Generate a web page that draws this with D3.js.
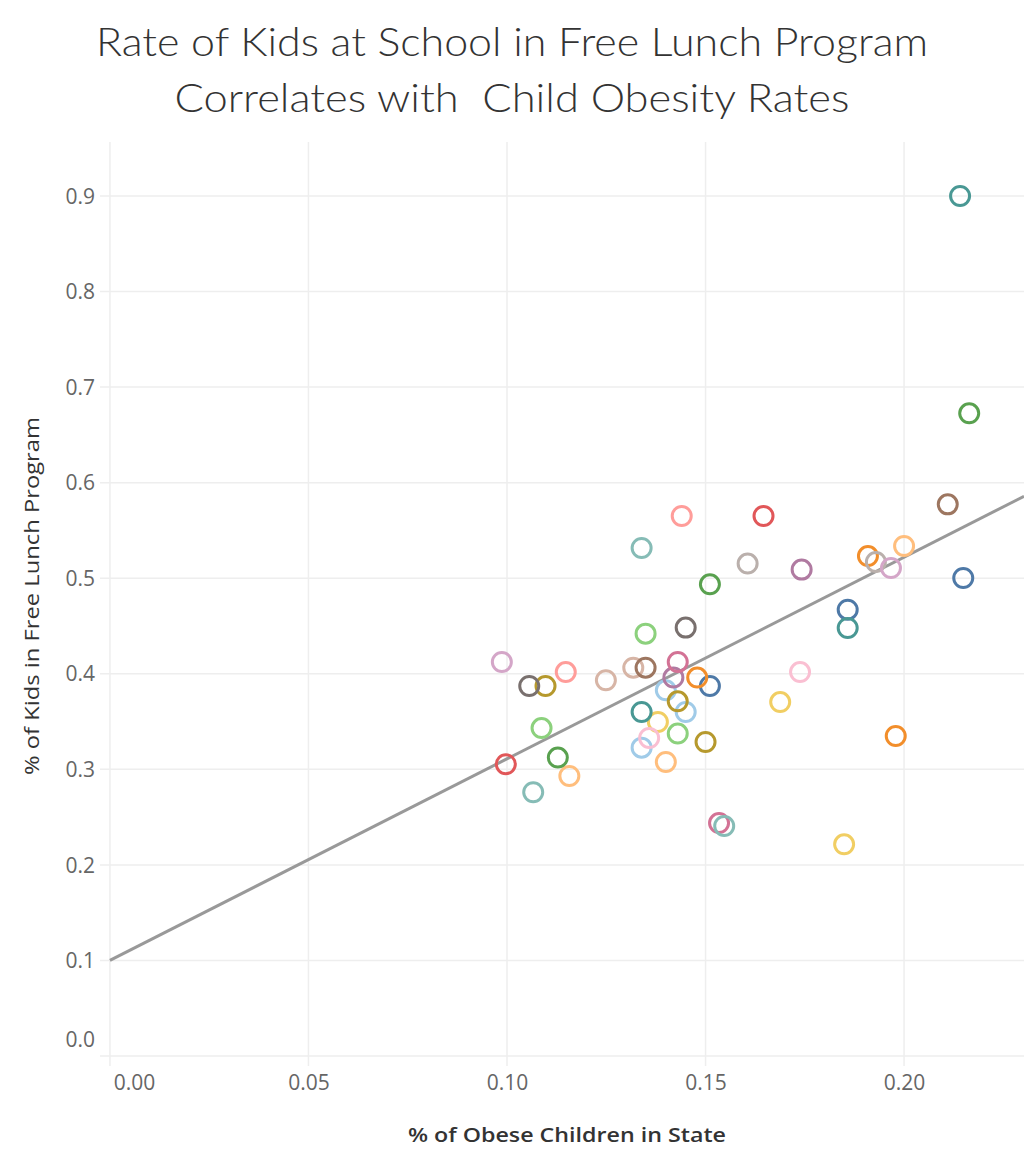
<!DOCTYPE html>
<html>
<head>
<meta charset="utf-8">
<script src="https://cdn.jsdelivr.net/npm/d3@7"></script>
<style>
  html, body { margin: 0; padding: 0; background: #fff; }
  svg { display: block; }
  text { white-space: pre; }
</style>
</head>
<body>
<script>
// ---------------- DATA ----------------
const titleLines = ["Rate of Kids at School in Free Lunch Program", "Correlates with  Child Obesity Rates"];
const xAxisTitle = "% of Obese Children in State";
const yAxisTitle = "% of Kids in Free Lunch Program";

const xTicks = [0.00, 0.05, 0.10, 0.15, 0.20];
const yTicks = [0.0, 0.1, 0.2, 0.3, 0.4, 0.5, 0.6, 0.7, 0.8, 0.9];

// colour group of each point (index into the Tableau 20 palette)
const pointGroup = [
  0, 0, 0,
  1, 1, 1,
  2, 2, 2,
  3, 3, 3,
  4, 4, 4,
  5, 5, 5,
  6, 6, 6,
  7, 7, 7,
  8, 8, 8,
  9, 9,
  10, 10,
  11, 11,
  12, 12,
  13, 13,
  15, 15,
  16, 16,
  17, 17,
  19, 19, 18, 18,
  14, 14, 9
];
// % of obese children in state (x)
const obesity = [
  0.1858, 0.1511, 0.2149,
  0.1400, 0.1450, 0.1339,
  0.1909, 0.1979, 0.1479,
  0.2000, 0.1400, 0.1157,
  0.2164, 0.1511, 0.1128,
  0.1349, 0.1430, 0.1087,
  0.1097, 0.1430, 0.1500,
  0.1849, 0.1380, 0.1688,
  0.2141, 0.1858, 0.1339,
  0.1339, 0.1066,
  0.1646, 0.0997,
  0.1440, 0.1148,
  0.1450, 0.1056,
  0.1929, 0.1606,
  0.1358, 0.1738,
  0.1742, 0.1419,
  0.0987, 0.1967,
  0.1249, 0.1318, 0.2110, 0.1349,
  0.1430, 0.1534, 0.1547
];
// % of kids in free lunch program (y)
const freeLunch = [
  0.4671, 0.3872, 0.5002,
  0.3827, 0.3600, 0.3227,
  0.5232, 0.3349, 0.3960,
  0.5337, 0.3077, 0.2930,
  0.6726, 0.4936, 0.3123,
  0.4420, 0.3374, 0.3432,
  0.3872, 0.3712, 0.3286,
  0.2215, 0.3495, 0.3704,
  0.9000, 0.4479, 0.3600,
  0.5316, 0.2760,
  0.5651, 0.3053,
  0.5651, 0.4018,
  0.4483, 0.3872,
  0.5170, 0.5153,
  0.3328, 0.4018,
  0.5090, 0.3960,
  0.4123, 0.5107,
  0.3932, 0.4064, 0.5773, 0.4064,
  0.4123, 0.2438, 0.2407
];
// linear trend line: y = intercept + slope * x
const trendIntercept = 0.1;
const trendSlope = 2.11;

// ---------------- CHART ----------------
const tableau20 = ["#4E79A7","#A0CBE8","#F28E2B","#FFBE7D","#59A14F","#8CD17D","#B6992D","#F1CE63",
                   "#499894","#86BCB6","#E15759","#FF9D9A","#79706E","#BAB0AC","#D37295","#FABFD2",
                   "#B07AA1","#D4A6C8","#9D7660","#D7B5A6"];

const W = 1024, H = 1166;
const plot = { left: 100, right: 1024, top: 142, bottom: 1056 };
const TITLE_FONT = "Lato, 'Open Sans', sans-serif";
const FONT = "'Open Sans', Lato, sans-serif";

const svg = d3.select("body").append("svg").attr("width", W).attr("height", H)
  .style("background", "#fff");

const x = d3.scaleLinear().domain([-0.0025, 0.2302]).range([plot.left, plot.right]);
const y = d3.scaleLinear().domain([0, 0.9565]).range([plot.bottom, plot.top]);

// Title
const titleWidths = [832, 675];
svg.append("g").selectAll("text").data(titleLines).join("text")
  .attr("x", 512).attr("y", (d, i) => 56 + i * 56)
  .attr("text-anchor", "middle")
  .attr("textLength", (d, i) => titleWidths[i])
  .attr("lengthAdjust", "spacingAndGlyphs")
  .style("font-family", TITLE_FONT).style("font-weight", 300).style("font-size", "39px")
  .style("fill", "#333")
  .text(d => d);

// Grid lines
const grid = svg.append("g");
grid.selectAll("line.h").data(yTicks).join("line").attr("class", "h")
  .attr("x1", plot.left).attr("x2", plot.right)
  .attr("y1", d => y(d)).attr("y2", d => y(d))
  .attr("stroke", "#eeeeee").attr("stroke-width", 1.5);
grid.selectAll("line.v").data(xTicks).join("line").attr("class", "v")
  .attr("x1", d => x(d)).attr("x2", d => x(d))
  .attr("y1", plot.top).attr("y2", plot.bottom + 10)
  .attr("stroke", "#eeeeee").attr("stroke-width", 1.5);

// Axes (labels only)
const yAxis = d3.axisLeft(y).tickValues(yTicks).tickFormat(d3.format(".1f")).tickSize(0).tickPadding(5);
const gy = svg.append("g").attr("transform", `translate(${plot.left},0)`).call(yAxis);
gy.select(".domain").remove();
gy.selectAll("text").style("font-family", FONT).style("font-size", "21px").style("fill", "#666")
  .attr("dy", (d) => d === 0 ? "-0.45em" : "0.34em");

const xAxis = d3.axisBottom(x).tickValues(xTicks).tickFormat(d3.format(".2f")).tickSize(0).tickPadding(19);
const gx = svg.append("g").attr("transform", `translate(0,${plot.bottom})`).call(xAxis);
gx.select(".domain").remove();
gx.selectAll("text").style("font-family", FONT).style("font-size", "21px").style("fill", "#666")
  .attr("dx", (d) => d === 0 ? "1.15em" : "0");

// Axis titles
svg.append("text").attr("x", 567).attr("y", 1142).attr("text-anchor", "middle")
  .attr("textLength", 318).attr("lengthAdjust", "spacingAndGlyphs")
  .style("font-family", FONT).style("font-size", "20px").style("font-weight", 600).style("fill", "#333")
  .text(xAxisTitle);
svg.append("text").attr("transform", "translate(39,596) rotate(-90)").attr("text-anchor", "middle")
  .attr("textLength", 358).attr("lengthAdjust", "spacingAndGlyphs")
  .style("font-family", FONT).style("font-size", "20px").style("font-weight", 400).style("fill", "#333")
  .text(yAxisTitle);

// Trend line
svg.append("line")
  .attr("x1", x(0)).attr("y1", y(trendIntercept))
  .attr("x2", x(0.2302)).attr("y2", y(trendIntercept + trendSlope * 0.2302))
  .attr("stroke", "#999").attr("stroke-width", 3);

// Points
const pts = obesity.map((v, i) => ({ x: v, y: freeLunch[i], g: pointGroup[i] }));
svg.append("g").selectAll("circle").data(pts).join("circle")
  .attr("cx", d => x(d.x)).attr("cy", d => y(d.y)).attr("r", 9.5)
  .attr("fill", "none").attr("stroke", d => tableau20[d.g]).attr("stroke-width", 3);
</script>
</body>
</html>
